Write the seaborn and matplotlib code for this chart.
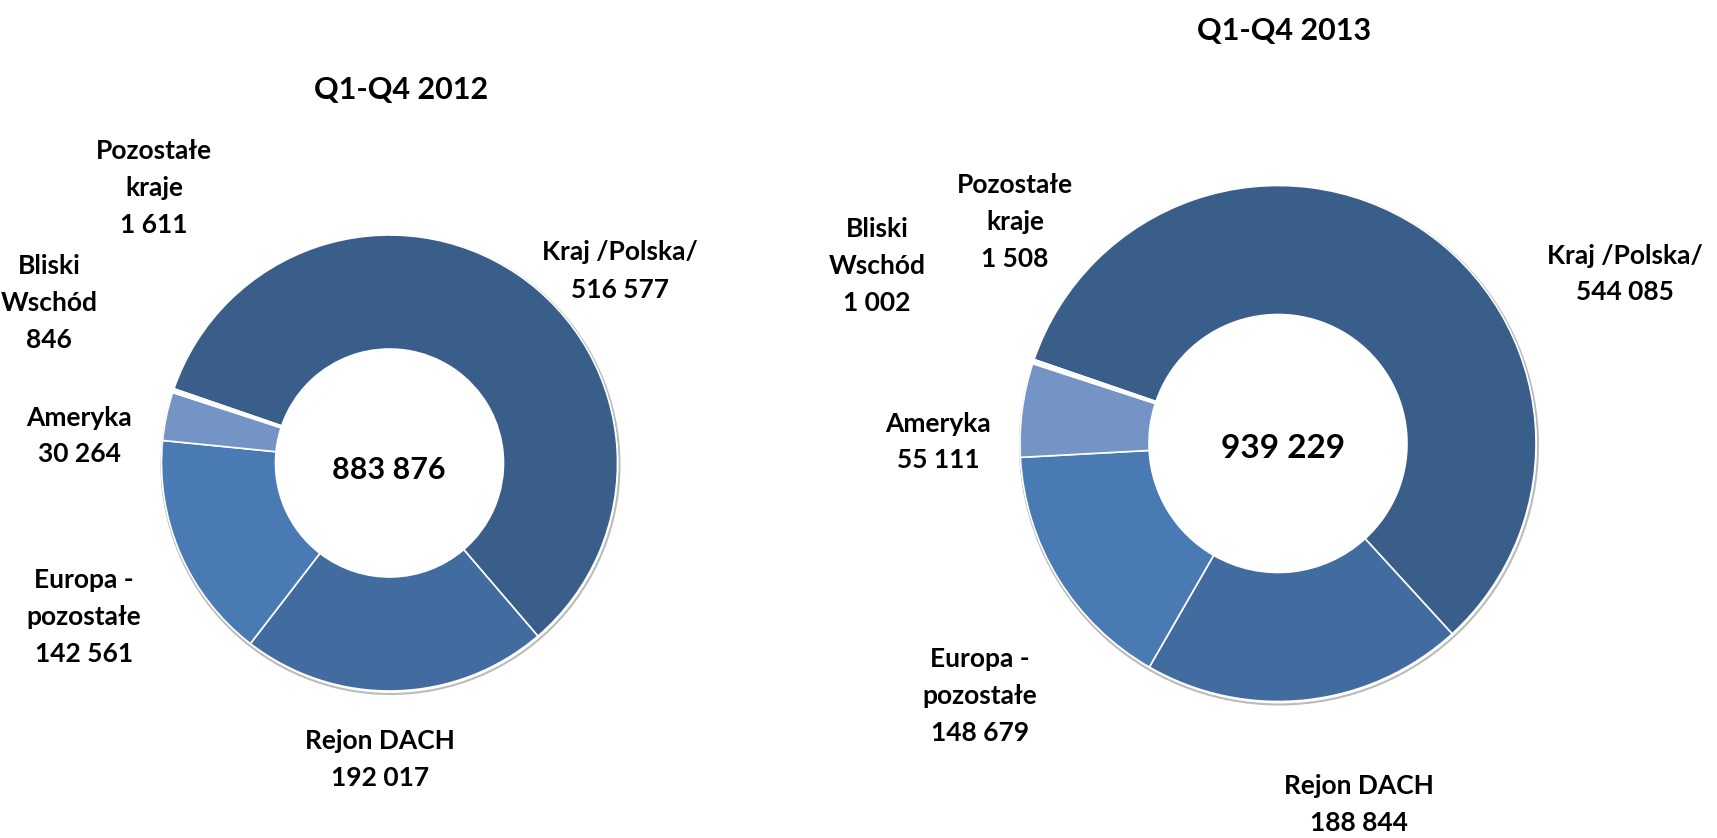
import matplotlib
matplotlib.use("Agg")
import matplotlib.pyplot as plt
import seaborn as sns

sns.set_theme(style="white")
plt.rcParams['font.family'] = ['Lato', 'DejaVu Sans']

# ---- data ----
categories = ["Kraj /Polska/", "Rejon DACH", "Europa -\npozostałe", "Ameryka", "Bliski\nWschód", "Pozostałe\nkraje"]
values_2012 = [516577, 192017, 142561, 30264, 846, 1611]
values_2013 = [544085, 188844, 148679, 55111, 1002, 1508]
labels_2012 = ["516 577", "192 017", "142 561", "30 264", "846", "1 611"]
labels_2013 = ["544 085", "188 844", "148 679", "55 111", "1 002", "1 508"]
totals = ["883 876", "939 229"]
titles = ["Q1-Q4 2012", "Q1-Q4 2013"]

colors = ["#3A5E8A", "#426C9F", "#4A7AB3", "#7494C6", "#E4EAF3", "#F0F3F8"]

W, H = 1717, 838
fig = plt.figure(figsize=(W / 100, H / 100), dpi=100)
ax = fig.add_axes([0, 0, 1, 1])

def py(y):
    return H - y

charts = [
    dict(values=values_2012, labels=labels_2012, total=totals[0], title=titles[0],
         center=(389.5, 463), radius=228, title_pos=(401, 90), total_pos=(389, 470), total_fs=22,
         label_pos=[(620, 271), (380, 759), (84, 617), (79, 436), (49, 303), (154, 188)]),
    dict(values=values_2013, labels=labels_2013, total=totals[1], title=titles[1],
         center=(1278, 443.5), radius=258, title_pos=(1284, 31), total_pos=(1283, 449), total_fs=24,
         label_pos=[(1625, 274), (1359, 804), (980, 696), (938, 442), (877, 266), (1015, 222)]),
]

for c in charts:
    cx, cy = c["center"]
    ax.pie(c["values"], colors=colors, startangle=161, counterclock=False,
           center=(cx, py(cy)), radius=c["radius"], frame=True,
           wedgeprops=dict(width=c["radius"] * 0.5, edgecolor="white", linewidth=1.2))
    # subtle outer shadow ring
    ring = plt.Circle((cx + 1, py(cy) - 2), c["radius"] + 1, fill=False,
                      edgecolor="#BBBBBB", linewidth=1.5, zorder=0)
    ax.add_patch(ring)
    ax.text(c["title_pos"][0], py(c["title_pos"][1]), c["title"], ha="center", va="center",
            fontsize=22, fontweight="bold", color="black")
    ax.text(c["total_pos"][0], py(c["total_pos"][1]), c["total"], ha="center", va="center",
            fontsize=c["total_fs"], fontweight="bold", color="black")
    for cat, lab, (lx, ly) in zip(categories, c["labels"], c["label_pos"]):
        ax.text(lx, py(ly), f"{cat}\n{lab}", ha="center", va="center",
                fontsize=19, fontweight="bold", color="black", linespacing=1.65)

ax.set_xlim(0, W)
ax.set_ylim(0, H)
ax.set_aspect("auto")
ax.axis("off")

fig.savefig("out.png", dpi=100, facecolor="white")
